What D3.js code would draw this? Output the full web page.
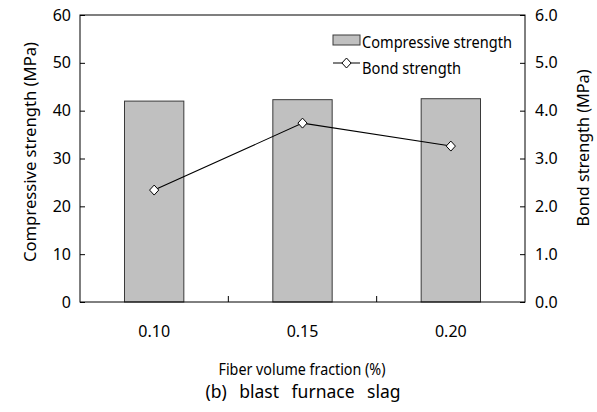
<!DOCTYPE html>
<html><head><meta charset="utf-8">
<script src="https://cdn.jsdelivr.net/npm/d3@7"></script>
<style>body{margin:0;background:#fff}svg{display:block}text{font-family:"Noto Sans","Open Sans",sans-serif;fill:#000}</style>
</head><body>
<svg id="c" width="597" height="412"></svg>
<script>
const categories = ["0.10", "0.15", "0.20"];
const compressiveStrength = [42.0, 42.3, 42.5];
const bondStrength = [2.34, 3.74, 3.26];
const leftTicks = [0, 10, 20, 30, 40, 50, 60];
const rightTicks = [0, 1, 2, 3, 4, 5, 6];
const xLabel = "Fiber volume fraction (%)";
const yLeftLabel = "Compressive strength (MPa)";
const yRightLabel = "Bond strength (MPa)";
const caption = "(b) blast furnace slag";
const legendLabels = ["Compressive strength", "Bond strength"];

const svg = d3.select("#c");
const L = 80, R = 525, T = 15, B = 302;
const x = d3.scaleBand().domain(categories).range([L, R]).paddingInner(0.6).paddingOuter(0.3);
const xb = d3.scaleBand().domain(categories).range([L, R]);
const yL = d3.scaleLinear().domain([0, 60]).range([B, T]);
const yR = d3.scaleLinear().domain([0, 6]).range([B, T]);

// bars
svg.selectAll("rect.bar").data(categories).join("rect")
  .attr("class", "bar")
  .attr("x", d => x(d)).attr("width", x.bandwidth())
  .attr("y", (d, i) => yL(compressiveStrength[i]))
  .attr("height", (d, i) => B - yL(compressiveStrength[i]))
  .attr("fill", "#c0c0c0").attr("stroke", "#3a3a3a").attr("stroke-width", 1);

// frame
svg.append("rect").attr("x", L).attr("y", T).attr("width", R - L).attr("height", B - T)
  .attr("fill", "none").attr("stroke", "#000").attr("stroke-width", 1);

// left axis
const gl = svg.append("g").attr("transform", `translate(${L},0)`)
  .call(d3.axisLeft(yL).tickValues(leftTicks).tickSize(-5).tickPadding(9).tickFormat(d3.format("d")));
gl.select(".domain").remove();
gl.selectAll("text").style("font-size", "16px").attr("fill", "#000");
gl.selectAll("line").attr("stroke", "#000");

// right axis
const gr = svg.append("g").attr("transform", `translate(${R},0)`)
  .call(d3.axisRight(yR).tickValues(rightTicks).tickSize(-5).tickPadding(10).tickFormat(d3.format(".1f")));
gr.select(".domain").remove();
gr.selectAll("text").style("font-size", "16px").attr("fill", "#000");
gr.selectAll("line").attr("stroke", "#000");

// bottom axis: ticks between categories
const gb = svg.append("g").attr("transform", `translate(0,${B})`)
  .call(d3.axisBottom(xb).tickSize(0).tickPadding(24));
gb.select(".domain").remove();
gb.selectAll("text").style("font-size", "16px").attr("fill", "#000");
svg.selectAll("line.sep").data(categories.slice(1)).join("line")
  .attr("class", "sep")
  .attr("x1", d => xb(d)).attr("x2", d => xb(d))
  .attr("y1", B).attr("y2", B - 6).attr("stroke", "#000");

// diamond marker
const diamondPath = d3.path();
diamondPath.moveTo(0, -5); diamondPath.lineTo(4.6, 0); diamondPath.lineTo(0, 5); diamondPath.lineTo(-4.6, 0); diamondPath.closePath();
const diamond = diamondPath.toString();

// line series
const cx = d => xb(d) + xb.bandwidth() / 2;
const line = d3.line().x((d, i) => cx(categories[i])).y(d => yR(d));
svg.append("path").datum(bondStrength).attr("d", line)
  .attr("fill", "none").attr("stroke", "#000").attr("stroke-width", 1.1);
svg.selectAll("path.pt").data(bondStrength).join("path")
  .attr("class", "pt")
  .attr("transform", (d, i) => `translate(${cx(categories[i])},${yR(d)})`)
  .attr("d", diamond).attr("fill", "#fff").attr("stroke", "#000").attr("stroke-width", 1);

// legend
const lg = svg.append("g");
lg.append("rect").attr("x", 333).attr("y", 35).attr("width", 27).attr("height", 10)
  .attr("fill", "#c0c0c0").attr("stroke", "#3a3a3a");
lg.append("text").attr("x", 362).attr("y", 47.5).text(legendLabels[0])
  .style("font-size", "16px").attr("textLength", 150).attr("lengthAdjust", "spacingAndGlyphs");
lg.append("line").attr("x1", 333).attr("x2", 360).attr("y1", 63).attr("y2", 63).attr("stroke", "#000");
lg.append("path").attr("transform", "translate(346.5,63)").attr("d", diamond)
  .attr("fill", "#fff").attr("stroke", "#000");
lg.append("text").attr("x", 362).attr("y", 73.5).text(legendLabels[1])
  .style("font-size", "16px").attr("textLength", 99).attr("lengthAdjust", "spacingAndGlyphs");

// axis titles
svg.append("text").attr("transform", "translate(36,152) rotate(-90)").attr("text-anchor", "middle")
  .style("font-size", "15.5px").attr("textLength", 220).attr("lengthAdjust", "spacingAndGlyphs").text(yLeftLabel);
svg.append("text").attr("transform", "translate(589,148) rotate(-90)").attr("text-anchor", "middle")
  .style("font-size", "15.5px").attr("textLength", 157).attr("lengthAdjust", "spacingAndGlyphs").text(yRightLabel);
svg.append("text").attr("x", 302).attr("y", 375).attr("text-anchor", "middle")
  .style("font-size", "15.5px").attr("textLength", 167).attr("lengthAdjust", "spacingAndGlyphs").text(xLabel);
svg.append("text").attr("x", 303).attr("y", 398).attr("text-anchor", "middle")
  .style("font-size", "17.5px").style("word-spacing", "8px").text(caption);
</script>
</body></html>
